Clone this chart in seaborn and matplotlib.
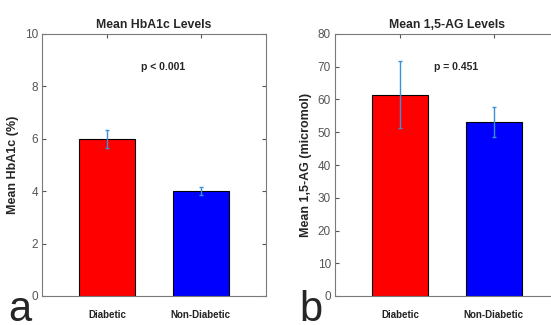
import matplotlib
matplotlib.use("Agg")
import matplotlib.pyplot as plt
import seaborn as sns
import pandas as pd

categories = ["Diabetic", "Non-Diabetic"]
hba1c_means = [6.0, 4.0]
hba1c_err = [0.35, 0.15]
ag_means = [61.5, 53.0]
ag_err = [10.2, 4.6]
bar_colors = ["#ff0000", "#0000ff"]

sns.set_style("white")
plt.rcParams['font.family'] = ['Liberation Sans', 'DejaVu Sans']

fig = plt.figure(figsize=(5.51, 3.25), dpi=100)
ax1 = fig.add_axes([42/551, 29/325, 224/551, 262/325])
ax2 = fig.add_axes([335/551, 29/325, 224/551, 262/325])

def panel(ax, means, errs, title, ylabel, ylim, yticks, ptext, py):
    df = pd.DataFrame({"cat": categories, "val": means})
    sns.barplot(data=df, x="cat", y="val", hue="cat", palette=bar_colors,
                saturation=1, errorbar=None, width=0.6, edgecolor="black",
                linewidth=0.8, legend=False, ax=ax)
    ax.errorbar(range(len(means)), means, yerr=errs, fmt="none",
                ecolor="#3d8fd6", elinewidth=1, capsize=1.5, capthick=1)
    ax.set_xlim(-0.7, 1.7)
    ax.set_ylim(*ylim)
    ax.set_yticks(yticks)
    ax.set_xlabel("")
    ax.set_ylabel(ylabel, fontsize=9, fontweight="bold")
    ax.yaxis.set_label_coords(-23/224, 0.5)
    ax.set_title(title, fontsize=8.8, fontweight="bold", pad=4)
    for s in ax.spines.values():
        s.set_color("#7a7a7a")
        s.set_linewidth(0.8)
    ax.tick_params(axis="y", direction="in", left=True, right=True, length=3,
                   labelsize=8.5, labelcolor="#555555", color="#555555", pad=3)
    ax.tick_params(axis="x", direction="in", bottom=False, top=True, length=3,
                   labelsize=7, labelcolor="#222222", color="#555555", pad=10)
    for lab in ax.get_xticklabels():
        lab.set_fontweight("bold")
    ax.text(0.6, py, ptext, ha="center", va="center", fontsize=7.5, fontweight="bold")
    return ax

panel(ax1, hba1c_means, hba1c_err, "Mean HbA1c Levels", "Mean HbA1c (%)",
      (0, 10), [0, 2, 4, 6, 8, 10], "p < 0.001", 8.75)
panel(ax2, ag_means, ag_err, "Mean 1,5-AG Levels", "Mean 1,5-AG (micromol)",
      (0, 80), [0, 10, 20, 30, 40, 50, 60, 70, 80], "p = 0.451", 70)

fig.text(8/551, 1 - 321/325, "a", fontsize=30, va="baseline", ha="left")
fig.text(299/551, 1 - 321/325, "b", fontsize=30, va="baseline", ha="left")

fig.savefig("out.png", dpi=100)
